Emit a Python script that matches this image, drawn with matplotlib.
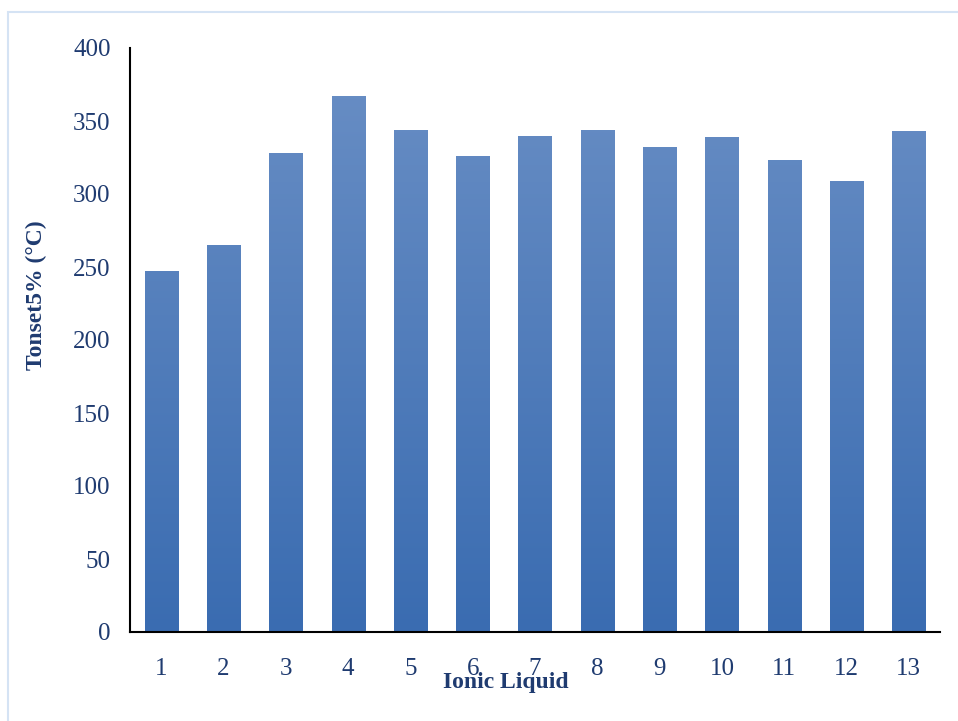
import numpy as np
import matplotlib
matplotlib.use('Agg')
import matplotlib.pyplot as plt
from matplotlib.patches import Rectangle

# データ
ionic_liquids = ['1', '2', '3', '4', '5', '6', '7', '8', '9', '10', '11', '12', '13']
tonset5 = [247, 265, 328, 367, 344, 326, 340, 344, 332, 339, 323, 309, 343]

text_color = '#1f3b70'
plt.rcParams['font.family'] = ['Liberation Serif', 'DejaVu Serif']

fig = plt.figure(figsize=(9.58, 7.21), dpi=100)
# 外枠
fig.patches.append(Rectangle((8/958, -0.01), 1.0, 1 - 12/721 + 0.01,
                             transform=fig.transFigure, fill=False,
                             edgecolor='#d5e3f4', linewidth=1.5))

ax = fig.add_axes([130/958, (721-632)/721, 810/958, 584/721])
x = np.arange(len(tonset5))
bars = ax.bar(x, tonset5, width=0.53, color='none', edgecolor='none')

# グラデーション塗り
grad = np.linspace(0, 1, 256).reshape(-1, 1)
cmap = matplotlib.colors.LinearSegmentedColormap.from_list(
    'g', ['#3a6cb1', '#6a8fc5'])
for b in bars:
    im = ax.imshow(grad, cmap=cmap, aspect='auto', origin='lower',
                   extent=[b.get_x(), b.get_x() + b.get_width(), 0, 400],
                   zorder=2)
    im.set_clip_path(b)

ax.set_xlim(-0.5, len(tonset5) - 0.5)
ax.set_ylim(0, 400)
ax.set_yticks(range(0, 401, 50))
ax.set_xticks(x)
ax.set_xticklabels(ionic_liquids)
ax.tick_params(axis='both', length=0, labelsize=18, labelcolor=text_color)
ax.tick_params(axis='x', pad=19)
ax.tick_params(axis='y', pad=14)
for s in ['top', 'right']:
    ax.spines[s].set_visible(False)
ax.spines['left'].set_linewidth(1.5)
ax.spines['bottom'].set_linewidth(1.5)

ax.set_xlabel('Ionic Liquid', fontsize=17, fontweight='bold', color=text_color)
ax.xaxis.set_label_coords(0.464, -0.086)
ax.xaxis.label.set_va('center')
ax.set_ylabel('Tonset5% (°C)', fontsize=17, fontweight='bold', color=text_color)
ax.yaxis.set_label_coords(-0.115, 0.577)
ax.yaxis.label.set_va('center')

plt.savefig('out.png', dpi=100)
